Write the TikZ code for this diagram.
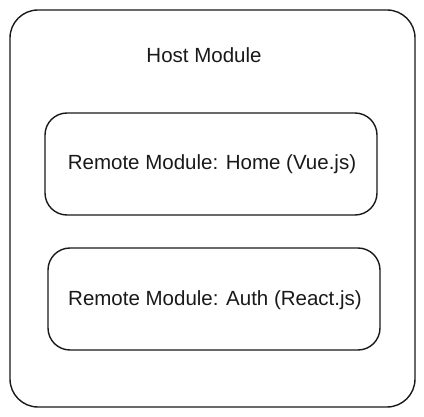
\documentclass[tikz,border=0pt]{standalone}
\usepackage{fontspec}
\setmainfont{Liberation Sans}
\begin{document}
\begin{tikzpicture}[x=1pt,y=-1pt,
  box/.style={draw=black!90, line width=1.4pt, rounded corners=22pt},
  lbl/.style={font=\fontsize{20.5}{24}\selectfont, text=black!90, inner sep=0pt}]
\useasboundingbox (0,0) rectangle (424,417);
\draw[box, rounded corners=28pt] (10,10) rectangle (415,407);
\node[lbl] (host) at (204,55) {Host Module};
\draw[box] (45,113) rectangle (377,215);
\node[lbl] (home) at (212,164) {Remote Module: Home (Vue.js)};
\draw[box] (48,248) rectangle (380,350);
\node[lbl] (auth) at (215,300) {Remote Module: Auth (React.js)};
\end{tikzpicture}
\end{document}
